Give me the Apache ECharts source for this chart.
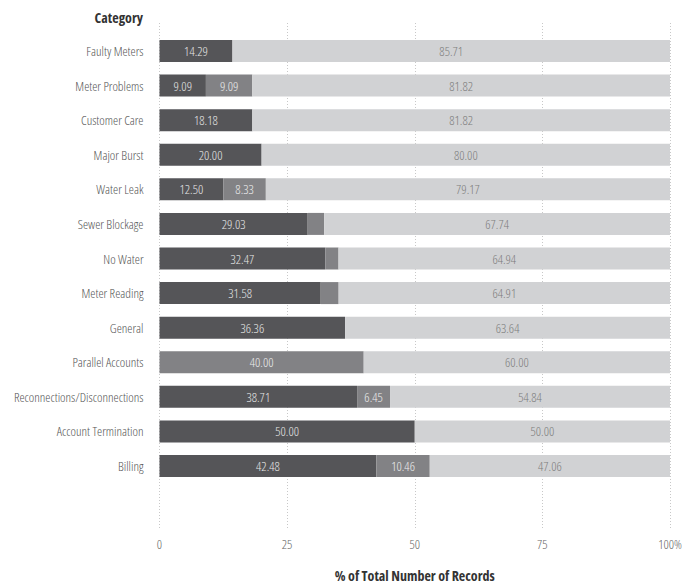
<!DOCTYPE html>
<html>
<head>
<meta charset="utf-8">
<script src="https://cdn.jsdelivr.net/npm/echarts@6/dist/echarts.min.js"></script>
<style>
  html, body { margin: 0; padding: 0; background: #fff; }
  #chart { width: 686px; height: 583px; }
  #chart svg text { font-stretch: 80%; }
</style>
</head>
<body>
<div id="chart"></div>
<script>
// Complaint categories, top to bottom
const categories = [
  'Faulty Meters', 'Meter Problems', 'Customer Care', 'Major Burst', 'Water Leak',
  'Sewer Blockage', 'No Water', 'Meter Reading', 'General', 'Parallel Accounts',
  'Reconnections/Disconnections', 'Account Termination', 'Billing'
];
// Share of records per status (percent of row total)
const darkShare  = [14.29, 9.09, 18.18, 20.00, 12.50, 29.03, 32.47, 31.58, 36.36, 0, 38.71, 50.00, 42.48];
const midShare   = [0, 9.09, 0, 0, 8.33, 3.23, 2.60, 3.51, 0, 40.00, 6.45, 0, 10.46];
const lightShare = [85.71, 81.82, 81.82, 80.00, 79.17, 67.74, 64.94, 64.91, 63.64, 60.00, 54.84, 50.00, 47.06];
const xTicks = [0, 25, 50, 75, 100];

const FONT = '"Open Sans", "Noto Sans", sans-serif';
const chart = echarts.init(document.getElementById('chart'), null, { renderer: 'svg' });

function segLabel(color) {
  return {
    show: true,
    position: 'inside',
    color: color,
    fontSize: 13,
    fontWeight: 300,
    fontFamily: FONT,
    formatter: p => (p.value >= 5 ? p.value.toFixed(2) : '')
  };
}

function barSeries(name, data, color, labelColor) {
  return {
    name: name,
    type: 'bar',
    stack: 'share',
    xAxisIndex: 1,
    yAxisIndex: 1,
    barWidth: 22,
    data: data,
    itemStyle: { color: color },
    label: segLabel(labelColor),
    silent: true
  };
}

chart.setOption({
  animation: false,
  textStyle: { fontFamily: FONT },
  grid: [
    { left: 159.5, right: 16, top: 23, bottom: 55, outerBoundsMode: 'none', containLabel: false },
    { left: 159.5, right: 16, top: 33.7, bottom: 99.7, outerBoundsMode: 'none', containLabel: false }
  ],
  xAxis: [
    {
      gridIndex: 0,
      type: 'value',
      min: 0, max: 100, interval: 25,
      axisLine: { show: false },
      axisTick: { show: false },
      axisLabel: {
        color: '#666', fontSize: 13, fontWeight: 300, margin: 9,
        formatter: v => (xTicks.includes(v) ? (v === 100 ? '100%' : String(v)) : '')
      },
      splitLine: { show: true, lineStyle: { color: '#c8c8c8', type: [1, 2], width: 1 } },
      name: '% of Total Number of Records',
      nameLocation: 'middle',
      nameGap: 40,
      nameTextStyle: { color: '#333', fontSize: 14, fontWeight: 'bold', fontFamily: FONT }
    },
    {
      gridIndex: 1,
      type: 'value',
      min: 0, max: 100,
      show: false,
      splitLine: { show: false }
    }
  ],
  yAxis: [
    { gridIndex: 0, type: 'category', data: [''], show: false },
    {
      gridIndex: 1,
      type: 'category',
      data: categories,
      inverse: true,
      axisLine: { show: false },
      axisTick: { show: false },
      splitLine: { show: false },
      axisLabel: { color: '#555', fontSize: 13, fontWeight: 300, margin: 16 }
    }
  ],
  graphic: [
    {
      type: 'text',
      right: 686 - 143,
      top: 10,
      style: { text: 'Category', fill: '#333', fontSize: 14, fontWeight: 'bold', fontFamily: FONT, textAlign: 'right' }
    }
  ],
  series: [
    barSeries('Dark', darkShare, '#555558', '#e6e6e6'),
    barSeries('Mid', midShare, '#828285', '#ededed'),
    barSeries('Light', lightShare, '#d1d2d4', '#7d7d7d')
  ]
});
</script>
</body>
</html>
